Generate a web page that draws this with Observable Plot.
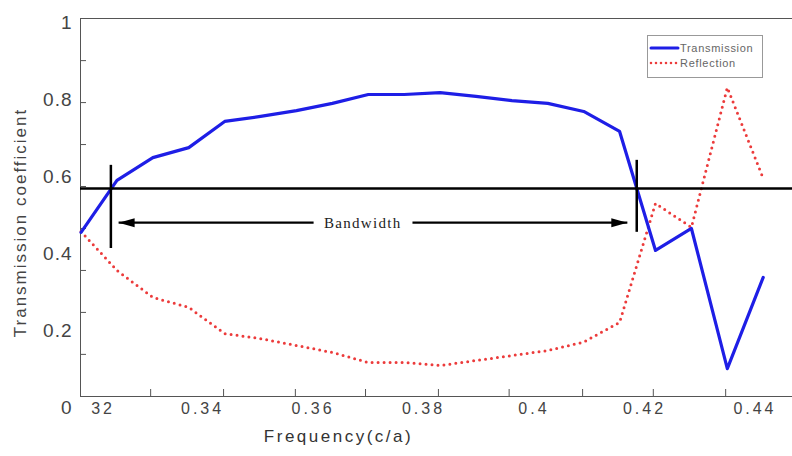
<!DOCTYPE html>
<html>
<head>
<meta charset="utf-8">
<script src="https://cdn.jsdelivr.net/npm/d3@7"></script>
<script src="https://cdn.jsdelivr.net/npm/@observablehq/plot@0.6"></script>
<style>
  html, body { margin: 0; padding: 0; background: #fff; overflow: hidden; }
  #wrap { position: relative; width: 792px; height: 456px; }
  #legend { position: absolute; left: 647px; top: 35px; }
</style>
</head>
<body>
<div id="wrap"></div>
<script>
// ---- data ----
const freq = [0.318, 0.3245, 0.331, 0.3375, 0.344, 0.3505, 0.357, 0.3635, 0.370, 0.3765,
              0.383, 0.3895, 0.396, 0.4025, 0.409, 0.4155, 0.422, 0.4285, 0.435, 0.4415];
const transmission = [0.455, 0.590, 0.649, 0.675, 0.743, 0.756, 0.771, 0.790, 0.813, 0.813,
                      0.818, 0.808, 0.797, 0.790, 0.769, 0.717, 0.408, 0.465, 0.101, 0.338];
const reflection = [0.457, 0.356, 0.286, 0.260, 0.192, 0.179, 0.161, 0.143, 0.117, 0.117,
                    0.109, 0.122, 0.135, 0.148, 0.170, 0.221, 0.530, 0.468, 0.831, 0.595];

const xDomain = [0.3179, 0.4468];
const yDomain = [0.0286, 1.0104];
const xTicks = [0.32, 0.34, 0.36, 0.38, 0.40, 0.42, 0.44];
const xTickLabels = ["32", "0.34", "0.36", "0.38", "0.4", "0.42", "0.44"];
const yTicks = [0, 0.2, 0.4, 0.6, 0.8, 1];
const yTickLabels = ["0", "0.2", "0.4", "0.6", "0.8", "1"];
const xMinorTicks = [0.3306, 0.3438, 0.3568, 0.3695, 0.3827, 0.3955, 0.4088, 0.4216, 0.4347];
const yMinorTicks = [0.901, 0.792, 0.683, 0.574, 0.465, 0.356, 0.247, 0.138];

const threshold = [0.569];
const bandEdges = [0.3234, 0.4186];
const markerLow = [0.413, 0.455];
const markerHigh = [0.629, 0.642];
const arrowFrom = [0.3601, 0.3780];
const arrowTo = [0.3248, 0.4169];
const arrowLevel = 0.480;
const bandLabel = ["Bandwidth"];
const bandLabelX = 0.3690;

const seriesNames = ["Transmission", "Reflection"];
const xTitle = "Frequency(c/a)";
const yTitle = "Transmission coefficient";

// ---- tables built from the arrays ----
const rows = freq.map((f, i) => ({f, t: transmission[i], r: reflection[i]}));
const markers = bandEdges.map((x, i) => ({x, y1: markerLow[i], y2: markerHigh[i]}));
const arrows = arrowFrom.map((x1, i) => ({x1, x2: arrowTo[i], y: arrowLevel, rot: x1 > arrowTo[i] ? 180 : 0}));

const arrowHead = {
  draw(ctx) { ctx.moveTo(0, 0); ctx.lineTo(-16, -4.5); ctx.lineTo(-16, 4.5); ctx.closePath(); }
};

const axisGray = "#555";
const textGray = "#444";

const chart = Plot.plot({
  width: 792, height: 456,
  marginLeft: 80, marginRight: 0, marginTop: 18, marginBottom: 60,
  x: {domain: xDomain, axis: null},
  y: {domain: yDomain, axis: null},
  style: {background: "transparent", fontFamily: "'Liberation Sans', Arial, sans-serif"},
  marks: [
    // frame
    Plot.ruleY([yDomain[1]], {stroke: axisGray, strokeWidth: 1}),
    Plot.ruleY([yDomain[0]], {stroke: axisGray, strokeWidth: 1}),
    Plot.ruleX([xDomain[0]], {stroke: axisGray, strokeWidth: 1}),
    Plot.tickX(xMinorTicks, {x: d => d, insetTop: 371, stroke: axisGray}),
    Plot.tickY(yMinorTicks, {y: d => d, insetRight: 706, stroke: axisGray}),
    // tick labels
    Plot.text(xTicks.slice(1), {x: d => d, text: (d, i) => xTickLabels[i + 1], frameAnchor: "bottom", dy: 17, fontSize: 16, fill: textGray}),
    Plot.text(xTicks.slice(0, 1), {x: d => d, text: () => xTickLabels[0], frameAnchor: "bottom", dy: 17, dx: 11, fontSize: 16, fill: textGray}),
    Plot.text(yTicks, {y: d => d, text: (d, i) => yTickLabels[i], frameAnchor: "left", textAnchor: "end", dx: -8, fontSize: 19, fill: textGray}),
    // titles
    Plot.text([xTitle], {frameAnchor: "bottom", dy: 45, dx: -98, fontSize: 17, fill: "#333"}),
    Plot.text([yTitle], {frameAnchor: "left", textAnchor: "middle", rotate: -90, dx: -60, dy: 15, fontSize: 17, fill: textGray}),
    // data
    Plot.line(rows, {x: "f", y: "r", stroke: "#ec3b3b", strokeWidth: 3, strokeDasharray: "0,6", strokeLinecap: "round"}),
    Plot.line(rows, {x: "f", y: "t", stroke: "#1e1ee6", strokeWidth: 3.2, strokeLinejoin: "round"}),
    // annotations
    Plot.ruleY(threshold, {stroke: "#000", strokeWidth: 2.5}),
    Plot.ruleX(markers, {x: "x", y1: "y1", y2: "y2", stroke: "#000", strokeWidth: 2.5}),
    Plot.link(arrows, {x1: "x1", x2: "x2", y1: "y", y2: "y", stroke: "#000", strokeWidth: 2.2}),
    Plot.dot(arrows, {x: "x2", y: "y", symbol: arrowHead, rotate: "rot", fill: "#000", stroke: "none"}),
    Plot.text(bandLabel, {x: () => bandLabelX, y: () => arrowLevel, fontFamily: "'Liberation Serif', 'Times New Roman', serif", fontSize: 15, fill: "#222"})
  ]
});

// letter spacing to mimic the widened lettering of the source figure
const textGroups = chart.querySelectorAll('g[aria-label="text"]');
const spacing = ["3px", "3px", "1px", "2.5px", "2px", "1.3px"];
textGroups.forEach((g, i) => { if (spacing[i]) g.setAttribute("letter-spacing", spacing[i]); });

document.getElementById("wrap").appendChild(chart);

// legend (HTML/SVG overlay, top right inside the plot)
const leg = d3.create("svg").attr("id", "legend").attr("width", 118).attr("height", 46);
leg.append("rect").attr("x", 0.5).attr("y", 0.5).attr("width", 115).attr("height", 42)
  .attr("fill", "#fff").attr("stroke", "#999");
const legStyles = [
  {stroke: "#1e1ee6", dash: null, width: 3},
  {stroke: "#ec3b3b", dash: "0,5", width: 2.6}
];
seriesNames.forEach((name, i) => {
  const y = 13 + i * 15;
  const l = leg.append("line").attr("x1", 4).attr("x2", 31).attr("y1", y).attr("y2", y)
    .attr("stroke", legStyles[i].stroke).attr("stroke-width", legStyles[i].width).attr("stroke-linecap", "round");
  if (legStyles[i].dash) l.attr("stroke-dasharray", legStyles[i].dash);
  leg.append("text").attr("x", 33).attr("y", y).attr("dy", "0.35em")
    .attr("font-family", "'Liberation Sans', Arial, sans-serif").attr("font-size", 11)
    .attr("letter-spacing", "0.7px").attr("fill", "#666").text(name);
});
document.getElementById("wrap").appendChild(leg.node());
</script>
</body>
</html>
